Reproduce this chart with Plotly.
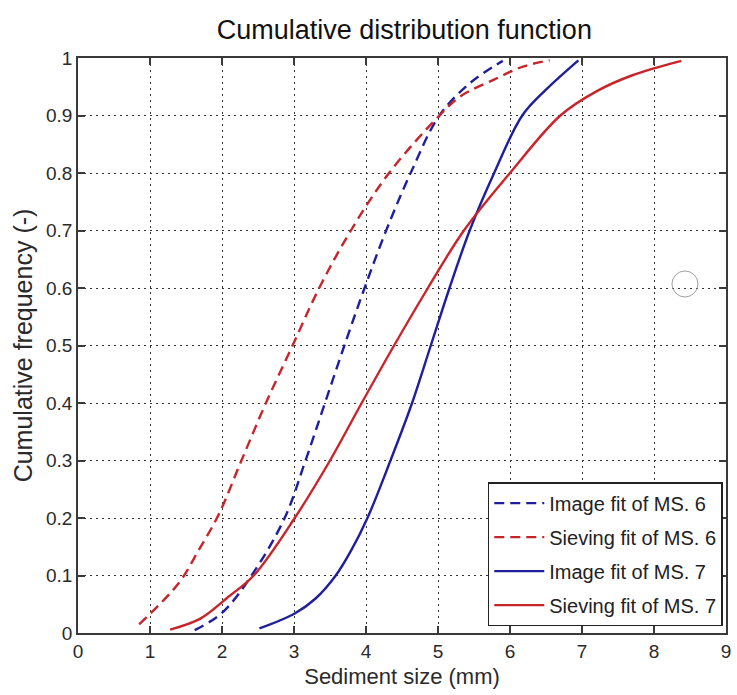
import plotly.graph_objects as go

# Image fit of MS. 6 (blue dashed)
img6_x = [1.62, 2.0, 2.41, 2.87, 3.16, 3.43, 3.7, 3.98, 4.28, 4.62, 5.02, 5.45, 5.9]
img6_y = [0.005, 0.035, 0.1, 0.2, 0.3, 0.4, 0.5, 0.6, 0.7, 0.8, 0.9, 0.957, 0.995]

# Sieving fit of MS. 6 (red dashed)
siv6_x = [0.85, 1.4, 1.68, 1.95, 2.27, 2.61, 2.98, 3.35, 3.79, 4.32, 5.02, 5.32, 5.77, 6.18, 6.55]
siv6_y = [0.015, 0.087, 0.145, 0.205, 0.3, 0.4, 0.5, 0.6, 0.7, 0.8, 0.9, 0.934, 0.962, 0.985, 0.996]

# Image fit of MS. 7 (blue solid)
img7_x = [2.52, 3.01, 3.3, 3.58, 3.8, 4.02, 4.34, 4.64, 4.9, 5.16, 5.44, 5.78, 6.17, 6.5, 6.95]
img7_y = [0.008, 0.034, 0.06, 0.1, 0.145, 0.2, 0.3, 0.4, 0.5, 0.6, 0.7, 0.8, 0.9, 0.945, 0.996]

# Sieving fit of MS. 7 (red solid)
siv7_x = [1.28, 1.7, 2.09, 2.44, 3.01, 3.5, 3.94, 4.39, 4.86, 5.36, 6.0, 6.7, 7.2, 7.7, 8.38]
siv7_y = [0.006, 0.025, 0.063, 0.1, 0.2, 0.3, 0.4, 0.5, 0.6, 0.7, 0.8, 0.9, 0.942, 0.97, 0.995]

# stray open circle marker in the picture
circle_x = [8.43]
circle_y = [0.607]

x_ticks = [0, 1, 2, 3, 4, 5, 6, 7, 8, 9]
y_ticks = [0, 0.1, 0.2, 0.3, 0.4, 0.5, 0.6, 0.7, 0.8, 0.9, 1]
y_tick_labels = ["0", "0.1", "0.2", "0.3", "0.4", "0.5", "0.6", "0.7", "0.8", "0.9", "1"]

BLUE = "#1f1f9e"
RED = "#c8252b"
FONT = "Liberation Sans, Arial, sans-serif"
DASH = "10px,6px"
SMOOTH = 1.0

fig = go.Figure()
fig.add_trace(go.Scatter(x=img6_x, y=img6_y, mode="lines", name="Image fit of MS. 6", legendgroup="a",
                         line=dict(color=BLUE, width=2.4, dash=DASH, shape="spline", smoothing=SMOOTH)))
fig.add_trace(go.Scatter(x=siv6_x, y=siv6_y, mode="lines", name="Sieving fit of MS. 6", legendgroup="b",
                         line=dict(color=RED, width=2.4, dash=DASH, shape="spline", smoothing=SMOOTH)))
fig.add_trace(go.Scatter(x=img7_x, y=img7_y, mode="lines", name="Image fit of MS. 7", legendgroup="c",
                         line=dict(color=BLUE, width=2.4, shape="spline", smoothing=SMOOTH)))
fig.add_trace(go.Scatter(x=siv7_x, y=siv7_y, mode="lines", name="Sieving fit of MS. 7", legendgroup="d",
                         line=dict(color=RED, width=2.4, shape="spline", smoothing=SMOOTH)))
fig.add_trace(go.Scatter(x=circle_x, y=circle_y, mode="markers", showlegend=False,
                         marker=dict(symbol="circle-open", size=26, color="#a0a0a0",
                                     line=dict(width=1, color="#a0a0a0"))))

axis_common = dict(
    showline=True, linecolor="#3a3a3a", linewidth=1.6, mirror="ticks",
    ticks="inside", ticklen=7, tickcolor="#3a3a3a", tickwidth=1.6,
    showgrid=True, gridcolor="#333333", griddash="2px,4px", gridwidth=1.3,
    zeroline=False, tickfont=dict(size=19, color="#2a2a2a", family=FONT),
)

fig.update_xaxes(range=[0, 9], tickvals=x_ticks, ticktext=[str(v) for v in x_ticks],
                 title=dict(text="Sediment size (mm)", font=dict(size=22, family=FONT, color="#2a2a2a"),
                            standoff=8), **axis_common)
fig.update_yaxes(range=[0, 1], tickvals=y_ticks, ticktext=y_tick_labels,
                 title=dict(text="Cumulative frequency (-)", font=dict(size=25, family=FONT, color="#2a2a2a"),
                            standoff=6), **axis_common)

fig.update_layout(
    width=737, height=695,
    margin=dict(l=78, r=6, t=58, b=62),
    paper_bgcolor="white", plot_bgcolor="white",
    title=dict(text="Cumulative distribution function", x=0.5486, xanchor="center",
               y=0.957, yanchor="middle", font=dict(size=27, family=FONT, color="#111111")),
    legend=dict(x=0.995, xanchor="right", y=0.012, yanchor="bottom",
                bgcolor="white", bordercolor="#222222", borderwidth=1.5,
                font=dict(size=20, family=FONT, color="#222222"),
                traceorder="grouped", tracegroupgap=5, itemwidth=50),
    font=dict(family=FONT),
)

fig.write_html("out.html")
